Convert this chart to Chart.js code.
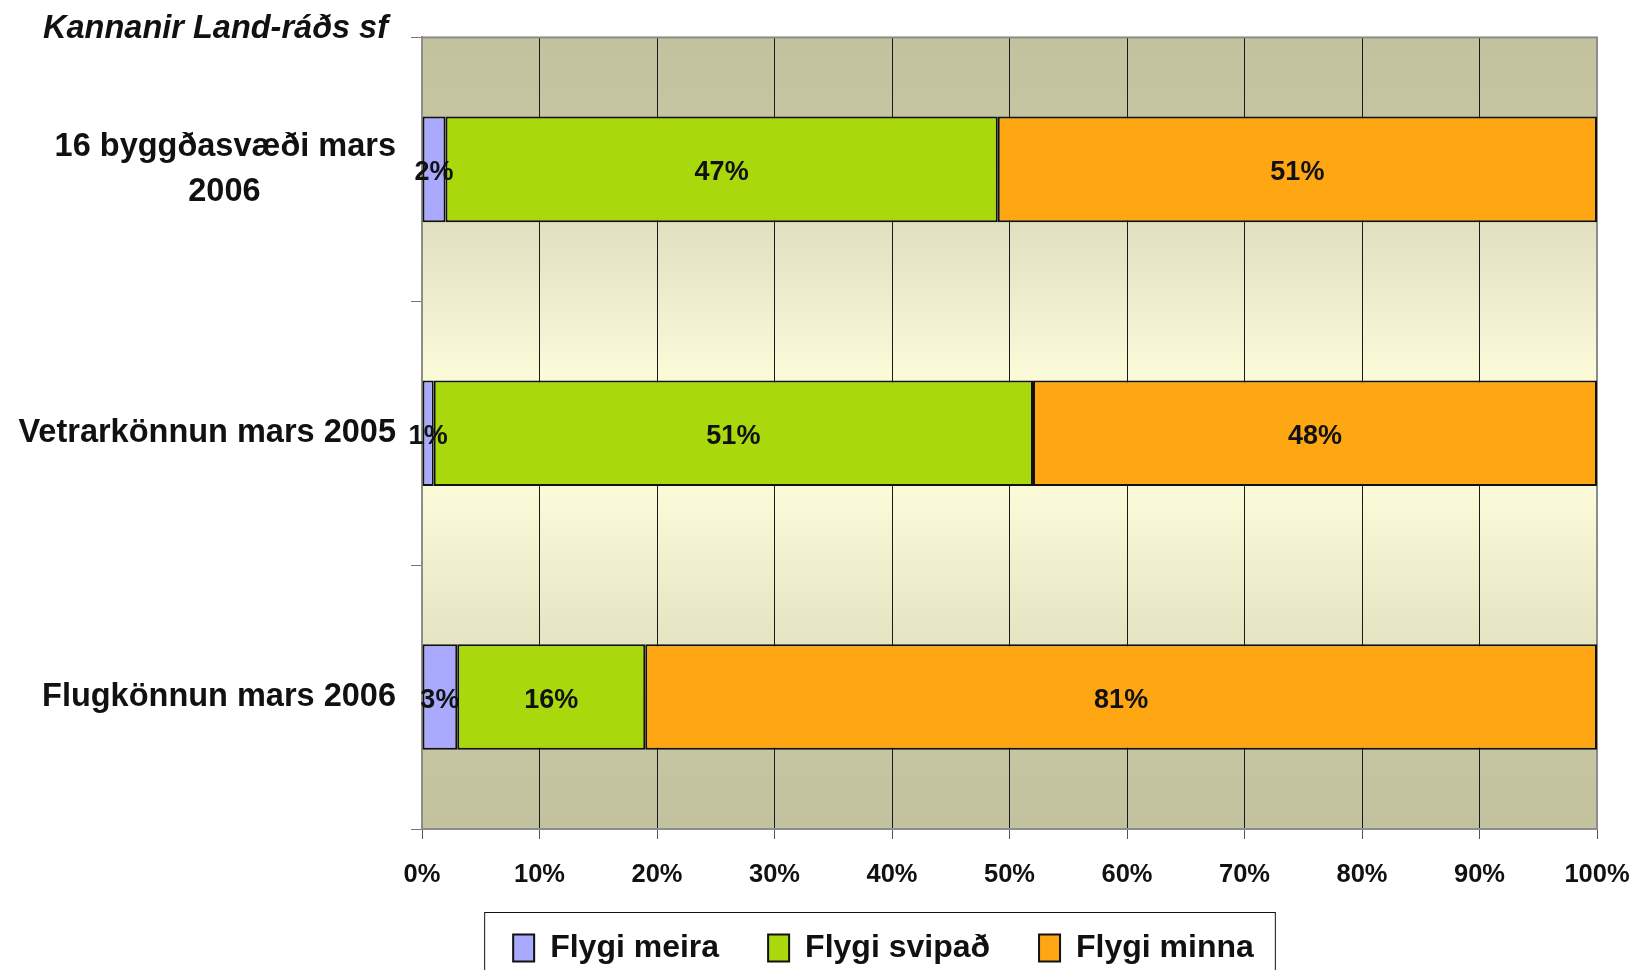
<!DOCTYPE html>
<html>
<head>
<meta charset="utf-8">
<script src="https://cdn.jsdelivr.net/npm/chart.js@4"></script>
<style>
  body { margin: 0; background: #fff; }
  #wrap { position: relative; width: 1634px; height: 970px; }
  #title {
    position: absolute; left: 0; top: 11px; width: 388px;
    text-align: right; font: italic bold 32.5px/32px "Liberation Sans", Arial, sans-serif;
    color: #111; white-space: nowrap;
  }
</style>
</head>
<body>
<div id="wrap">
  <div id="title">Kannanir Land-ráðs sf</div>
  <canvas id="chart"></canvas>
</div>
<script>
const categories = [['16 byggðasvæði mars', '2006'], 'Vetrarkönnun mars 2005', 'Flugkönnun mars 2006'];
const seriesNames = ['Flygi meira', 'Flygi svipað', 'Flygi minna'];
const flygiMeira = [2, 1, 3];
const flygiSvipad = [47, 51, 16];
const flygiMinna = [51, 48, 81];
const xTicks = [0, 10, 20, 30, 40, 50, 60, 70, 80, 90, 100];

const FONT = '"Liberation Sans", Arial, sans-serif';
const catFont = 'bold 32.5px ' + FONT;

// pad shorter lines so right-aligned multi-line labels look centred
function centerLines(lines) {
  const ctx = document.createElement('canvas').getContext('2d');
  ctx.font = catFont;
  const w = Math.max(...lines.map(l => ctx.measureText(l).width));
  const sp = ctx.measureText(' ').width;
  return lines.map(l => l + ' '.repeat(Math.round((w - ctx.measureText(l).width) / 2 / sp)));
}
const yLabels = categories.map(c => Array.isArray(c) ? centerLines(c) : c);

const plotBackground = {
  id: 'plotBackground',
  beforeDraw(chart) {
    const {ctx, chartArea: a} = chart;
    const g = ctx.createLinearGradient(0, a.top, 0, a.bottom);
    g.addColorStop(0, '#c3c29f');
    g.addColorStop(0.1, '#c6c5a2');
    g.addColorStop(0.233, '#e0dfc0');
    g.addColorStop(0.42, '#fafad9');
    g.addColorStop(0.58, '#fafad9');
    g.addColorStop(0.767, '#e4e3c2');
    g.addColorStop(0.9, '#c6c5a2');
    g.addColorStop(1, '#c3c29f');
    ctx.save();
    ctx.fillStyle = g;
    ctx.fillRect(a.left, a.top, a.right - a.left, a.bottom - a.top);
    ctx.restore();
  },
  beforeDatasetsDraw(chart) {
    const {ctx, chartArea: a} = chart;
    ctx.save();
    ctx.strokeStyle = '#8c8c8c';
    ctx.lineWidth = 2;
    ctx.strokeRect(a.left, a.top, a.right - a.left, a.bottom - a.top);
    ctx.restore();
  }
};

const valueLabels = {
  id: 'valueLabels',
  afterDatasetsDraw(chart) {
    const {ctx} = chart;
    ctx.save();
    ctx.font = 'bold 27px ' + FONT;
    ctx.fillStyle = '#111';
    ctx.textAlign = 'center';
    ctx.textBaseline = 'middle';
    chart.data.datasets.forEach((ds, i) => {
      chart.getDatasetMeta(i).data.forEach((bar, j) => {
        const p = bar.getCenterPoint();
        ctx.fillText(ds.data[j] + '%', p.x, p.y + 3);
      });
    });
    ctx.restore();
  }
};

const legendFrame = {
  id: 'legendFrame',
  afterLayout(chart) {
    // legend sits a bit left of the page centre
    chart.legend.left += 85;
    chart.legend.right += 85;
  },
  afterDraw(chart) {
    const boxes = chart.legend.legendHitBoxes;
    if (!boxes || !boxes.length) return;
    const first = boxes[0], last = boxes[boxes.length - 1];
    const cy = first.top + first.height / 2;
    const {ctx} = chart;
    ctx.save();
    ctx.strokeStyle = '#111';
    ctx.lineWidth = 1;
    ctx.strokeRect(first.left - 28.5, cy - 35.5, last.left + last.width - first.left + 50, 100);
    ctx.restore();
  }
};

new Chart(document.getElementById('chart'), {
  type: 'bar',
  data: {
    labels: categories,
    datasets: [
      { label: seriesNames[0], data: flygiMeira, backgroundColor: '#a9a9fe' },
      { label: seriesNames[1], data: flygiSvipad, backgroundColor: '#a9d90c' },
      { label: seriesNames[2], data: flygiMinna, backgroundColor: '#fea713' }
    ].map(d => Object.assign(d, {
      borderColor: '#111',
      borderWidth: 2,
      borderSkipped: false,
      categoryPercentage: 1,
      barPercentage: 0.4
    }))
  },
  options: {
    indexAxis: 'y',
    responsive: true,
    maintainAspectRatio: false,
    animation: false,
    layout: { padding: { top: 37, right: 37, bottom: -4, left: 0 } },
    plugins: {
      tooltip: { enabled: false },
      legend: {
        position: 'bottom',
        labels: {
          font: { family: FONT, size: 32, weight: 'bold' },
          color: '#111',
          boxWidth: 21,
          boxHeight: 27,
          padding: 49
        }
      }
    },
    scales: {
      x: {
        stacked: true,
        min: 0,
        max: 100,
        afterBuildTicks: axis => { axis.ticks = xTicks.map(v => ({ value: v })); },
        afterFit: axis => { axis.height = 54; },
        ticks: {
          callback: v => v + '%',
          // tall line box instead of tick padding, so the right edge is not pushed in
          font: { family: FONT, size: 25.5, weight: 'bold', lineHeight: 2.86 },
          color: '#111',
          padding: 0
        },
        grid: {
          color: c => (c.tick && c.tick.value === 100) ? '#8c8c8c' : '#1a1a1a',
          lineWidth: 1,
          tickLength: 10,
          tickColor: '#555'
        },
        border: { color: '#8c8c8c', width: 2 }
      },
      y: {
        stacked: true,
        afterFit: axis => { axis.width = 422; },
        ticks: {
          callback: (v, i) => yLabels[i],
          font: { family: FONT, size: 32.5, weight: 'bold', lineHeight: 1.38 },
          color: '#111',
          padding: 15
        },
        grid: {
          drawOnChartArea: false,
          tickLength: 11,
          tickColor: '#777'
        },
        border: { color: '#8c8c8c', width: 2 }
      }
    }
  },
  plugins: [plotBackground, valueLabels, legendFrame]
});
</script>
</body>
</html>
